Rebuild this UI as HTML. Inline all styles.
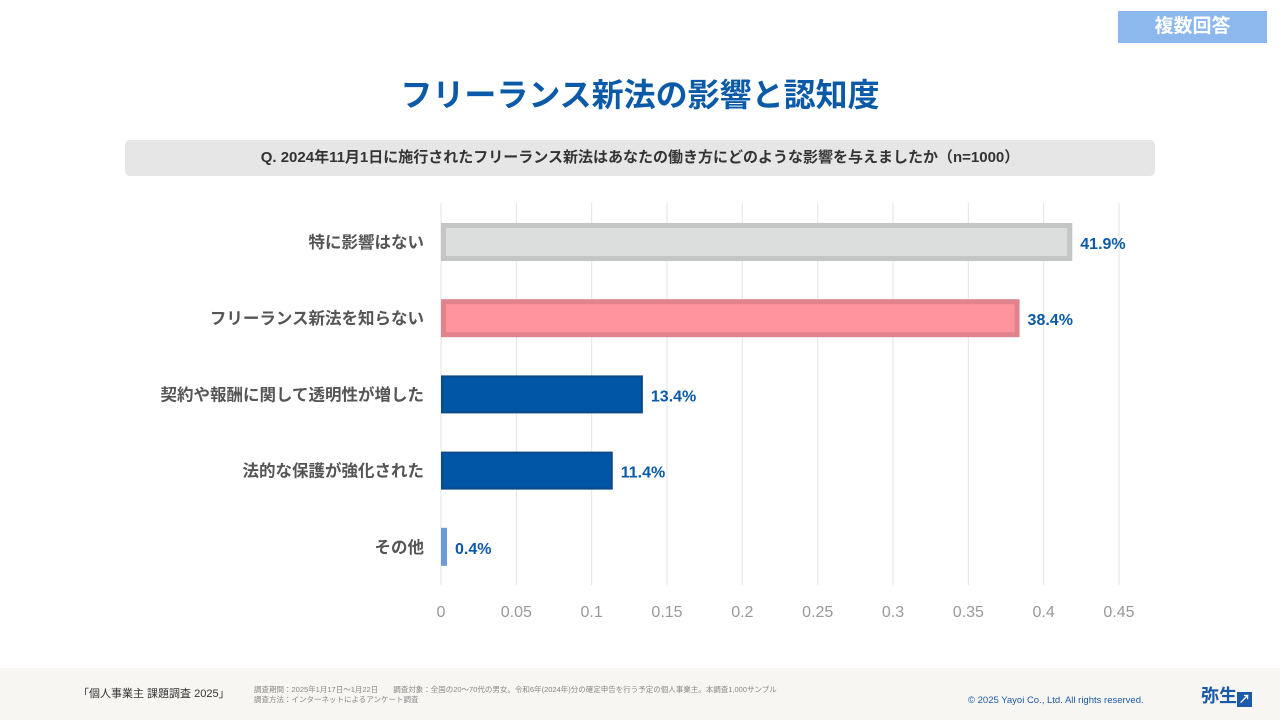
<!DOCTYPE html>
<html><head><meta charset="utf-8">
<style>
body{margin:0;width:1280px;height:720px;background:#fff;font-family:"Liberation Sans","Noto Sans CJK JP",sans-serif;position:relative;overflow:hidden}
.abs{position:absolute}
</style></head><body>
<div class="abs" style="left:1118px;top:11px;width:149px;height:32px;background:#8cb8ee;color:#fff;font-weight:bold;font-size:19px;line-height:32px;text-align:center">複数回答</div>
<div class="abs" style="left:0;top:72px;width:1280px;text-align:center;color:#0a5aa8;font-weight:bold;font-size:32px;line-height:46px">フリーランス新法の影響と認知度</div>
<div class="abs" style="left:125px;top:140px;width:1030px;height:36px;background:#e6e6e6;border-radius:5px;text-align:center;line-height:36px;font-weight:bold;font-size:15px;color:#333">Q. 2024年11月1日に施行されたフリーランス新法はあなたの働き方にどのような影響を与えましたか（n=1000）</div>
<svg class="abs" style="left:0;top:0" width="1280" height="720" id="chart"></svg>
<div class="abs" style="left:0;top:668px;width:1280px;height:52px;background:#f8f6f3">
<div class="abs" style="left:78px;top:17px;font-size:11px;color:#333">「個人事業主 課題調査 2025」</div>
<div class="abs" style="left:254px;top:17px;font-size:7.5px;color:#888;line-height:10px">調査期間：2025年1月17日～1月22日　　調査対象：全国の20～70代の男女。令和6年(2024年)分の確定申告を行う予定の個人事業主。本調査1,000サンプル<br>調査方法：インターネットによるアンケート調査</div>
<div class="abs" style="left:968px;top:27px;font-size:9.5px;color:#1a5aa8">© 2025 Yayoi Co., Ltd.  All rights reserved.</div>
<div class="abs" style="left:1201px;top:14px;font-size:18px;font-weight:bold;color:#1a5aa8">弥生<span style="display:inline-block;width:15px;height:15px;background:#1a5aa8;color:#fff;font-size:12px;line-height:15px;text-align:center;vertical-align:-1px">↗</span></div>
</div>
<script>
const categories=["特に影響はない","フリーランス新法を知らない","契約や報酬に関して透明性が増した","法的な保護が強化された","その他"];
const values=[0.419,0.384,0.134,0.114,0.004];
const labels=["41.9%","38.4%","13.4%","11.4%","0.4%"];
const ticks=[0,0.05,0.1,0.15,0.2,0.25,0.3,0.35,0.4,0.45];
const fills=["#dcdddd","#ff939e","#0055a5","#0055a5","#6a9bd6"];
const strokes=["#c4c6c6","#e0838c","#0a4a8a","#0a4a8a","#6a9bd6"];
const NS="http://www.w3.org/2000/svg",svg=document.getElementById('chart');
const x=v=>441+v/0.45*678, y=i=>242+i*76.2;
function mk(t,a){const e=document.createElementNS(NS,t);for(const k in a)e.setAttribute(k,a[k]);svg.appendChild(e);return e;}
ticks.forEach(t=>{
const l=mk('line',{x1:x(t),x2:x(t),y1:203,y2:585,stroke:'#e3e3e3','stroke-width':1});


const tx=mk('text',{x:x(t),y:617,'text-anchor':'middle','font-size':16,fill:'#999'});
tx.textContent=String(t);


});
categories.forEach((c,i)=>{
const w=x(values[i])-x(0);
const sw=i<2?5:2;
const r=mk('rect',{x:x(0)+sw/2,y:y(i)-19+sw/2,width:Math.max(w-sw,1),height:38-sw,fill:fills[i],stroke:strokes[i],'stroke-width':sw});


const t=mk('text',{x:424,y:y(i)+6,'text-anchor':'end','font-size':16.5,'font-weight':'bold',fill:'#555'});
t.textContent=c;


const v=mk('text',{x:x(values[i])+8,y:y(i)+7,'font-size':16,'font-weight':'bold',fill:'#0a5aa8'});
v.textContent=labels[i];


});
</script>
</body></html>
